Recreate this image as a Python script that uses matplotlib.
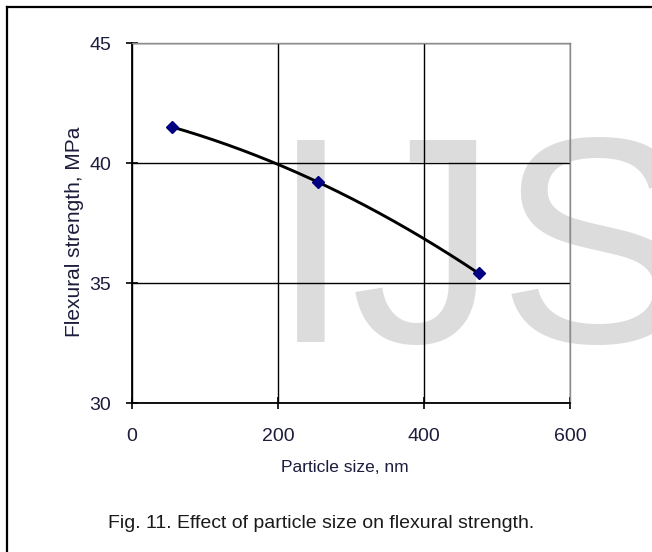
import matplotlib
matplotlib.use('Agg')
import matplotlib.pyplot as plt
from matplotlib.lines import Line2D
import numpy as np

plt.rcParams.update({'font.family': ['Liberation Sans', 'DejaVu Sans'],
                     'font.size': 11})

# data
particle_size = [55, 255, 475]          # nm
flex_strength = [41.5, 39.2, 35.4]      # MPa
x_ticks = [0, 200, 400, 600]
y_ticks = [30, 35, 40, 45]

fig = plt.figure(figsize=(6.52, 5.52), dpi=100)

# watermark behind the chart
fig.text(270 / 652, 1 - 342 / 552, 'IJS', fontsize=212, color='#dcdcdc',
         ha='left', va='baseline', zorder=0)

# frame (left and top edges visible)
fig.add_artist(Line2D([7 / 652, 7 / 652], [0, 1 - 7 / 552], transform=fig.transFigure,
                      color='black', lw=1.6))
fig.add_artist(Line2D([7 / 652, 1], [1 - 7 / 552, 1 - 7 / 552], transform=fig.transFigure,
                      color='black', lw=1.6))

ax = fig.add_axes([132 / 652, 1 - 403 / 552, 438 / 652, 360 / 552])
ax.patch.set_alpha(0)
ax.set_zorder(2)

# second-order trendline through the points
coef = np.polyfit(particle_size, flex_strength, 2)
xs = np.linspace(min(particle_size), max(particle_size), 200)
ax.plot(xs, np.polyval(coef, xs), color='black', lw=2.1, zorder=3)
ax.plot(particle_size, flex_strength, linestyle='none', marker='D', ms=6.5,
        color='#000080', zorder=4)

ax.set_xlim(0, 600)
ax.set_ylim(30, 45)
ax.set_xticks(x_ticks)
ax.set_yticks(y_ticks)
ax.grid(True, color='black', lw=1.0)
ax.set_axisbelow(True)
for side in ['top', 'right']:
    ax.spines[side].set_color('#8c8c8c')
    ax.spines[side].set_linewidth(1.0)
for side in ['left', 'bottom']:
    ax.spines[side].set_color('black')
    ax.spines[side].set_linewidth(1.3)
ax.tick_params(direction='inout', length=8, width=1.2, colors='black',
               labelcolor='#1c1c3c', labelsize=14)
ax.tick_params(axis='x', pad=14)
ax.tick_params(axis='y', pad=11)

fig.text(345 / 652, 1 - 468 / 552, 'Particle size, nm', ha='center', va='center',
         fontsize=12.5, color='#1c1c3c')
fig.text(75 / 652, 1 - 232 / 552, 'Flexural strength, MPa', ha='center', va='center',
         rotation=90, fontsize=15, color='#1c1c3c')

fig.text(321 / 652, 1 - 523 / 552, 'Fig. 11. Effect of particle size on flexural strength.',
         ha='center', va='center', fontsize=14, color='#1a1a1a')

fig.savefig('out.png', dpi=100)
